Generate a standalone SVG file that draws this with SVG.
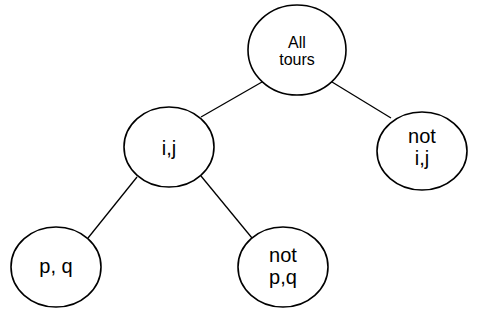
<svg xmlns="http://www.w3.org/2000/svg" width="484" height="316" viewBox="0 0 484 316">
  <style>
    .node { fill: #ffffff; stroke: #000000; stroke-width: 1.6; }
    .edge { stroke: #000000; stroke-width: 1.3; fill: none; }
    .label { font-family: "Liberation Sans", Arial, sans-serif; font-size: 20px; fill: #000000; text-anchor: middle; }
    .small { font-size: 16px; }
  </style>
  <rect width="484" height="316" fill="#ffffff"/>
  <g id="connectors">
    <line class="edge" x1="262" y1="82" x2="201" y2="117"/>
    <line class="edge" x1="332" y1="82" x2="391" y2="118"/>
    <line class="edge" x1="137" y1="177" x2="88" y2="238"/>
    <line class="edge" x1="201" y1="176" x2="252" y2="238"/>
  </g>
  <g id="root">
    <ellipse class="node" cx="297" cy="50" rx="49" ry="45"/>
    <text class="label small" x="297" y="48">All</text>
    <text class="label small" x="297" y="65">tours</text>
  </g>
  <g id="ij">
    <ellipse class="node" cx="169" cy="147" rx="45" ry="40"/>
    <text class="label" x="169" y="155">i,j</text>
  </g>
  <g id="not-ij">
    <ellipse class="node" cx="422" cy="151" rx="45" ry="39"/>
    <text class="label" x="422" y="143">not</text>
    <text class="label" x="422" y="165">i,j</text>
  </g>
  <g id="pq">
    <ellipse class="node" cx="56" cy="267" rx="45" ry="40"/>
    <text class="label" x="56" y="273">p, q</text>
  </g>
  <g id="not-pq">
    <ellipse class="node" cx="283" cy="267" rx="45" ry="40"/>
    <text class="label" x="283" y="262">not</text>
    <text class="label" x="283" y="284">p,q</text>
  </g>
</svg>
